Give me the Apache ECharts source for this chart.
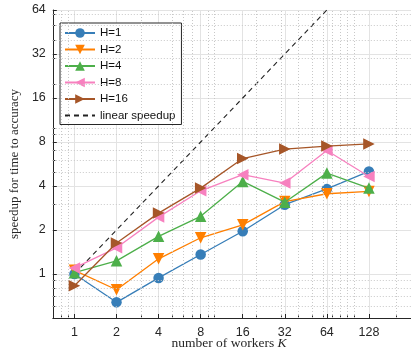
<!DOCTYPE html>
<html><head><meta charset="utf-8">
<script src="https://cdn.jsdelivr.net/npm/echarts@6/dist/echarts.min.js"></script>
<style>html,body{margin:0;padding:0;background:#fff}#c{width:411px;height:356px}</style>
</head><body><div id="c"></div>
<script>
// ---- data ----
const workers = [1, 2, 4, 8, 16, 32, 64, 128];
const seriesNames = ['H=1', 'H=2', 'H=4', 'H=8', 'H=16'];
const h1  = [1.00, 0.64, 0.94, 1.36, 1.96, 2.98, 3.82, 5.03];
const h2  = [1.06, 0.78, 1.27, 1.77, 2.17, 3.13, 3.54, 3.67];
const h4  = [1.02, 1.23, 1.81, 2.48, 4.30, 3.10, 4.90, 3.87];
const h8  = [1.10, 1.51, 2.45, 3.71, 4.78, 4.19, 7.00, 4.65];
const h16 = [0.83, 1.63, 2.61, 3.87, 6.16, 7.16, 7.50, 7.76];
const linearSpeedup = [1, 2, 4, 8, 16, 32, 64, 128];
const xTickLabels = [1, 2, 4, 8, 16, 32, 64, 128];
const yTickLabels = [1, 2, 4, 8, 16, 32, 64];
const xMinor = [0.8, 0.9, 3, 5, 6, 7, 9, 10, 20, 30, 40, 50, 60, 70, 80, 90, 100, 200];
const yMinor = [0.6, 0.7, 0.8, 0.9, 3, 5, 6, 7, 9, 10, 20, 30, 40, 50, 60];

const colors = ['#377eb8', '#ff7f00', '#4daf4a', '#f781bf', '#a65628'];
const symbols = ['circle', 'triangle', 'triangle', 'triangle', 'triangle'];
const rotations = [0, 180, 0, 90, -90];
const sizes = [10.5, 11.5, 11.5, 11.5, 11.5];
const allValues = [h1, h2, h4, h8, h16];

const chart = echarts.init(document.getElementById('c'), null, {renderer: 'canvas'});
const sans = 'Liberation Sans, Arial, sans-serif';
const serif = 'Liberation Serif, Times New Roman, serif';

const series = allValues.map((vals, i) => ({
  name: seriesNames[i],
  type: 'line',
  data: workers.map((k, j) => [k, vals[j]]),
  symbol: symbols[i],
  symbolRotate: rotations[i],
  symbolSize: sizes[i],
  showAllSymbol: true,
  color: colors[i],
  lineStyle: {width: 1.3, color: colors[i]},
  itemStyle: {color: colors[i]},
  z: 3 + i,
  animation: false
}));
series.push({
  name: 'linear speedup',
  type: 'line',
  data: workers.map((k, j) => [k, linearSpeedup[j]]),
  symbol: 'circle',
  showSymbol: false,
  itemStyle: {color: 'rgba(0,0,0,0)', borderWidth: 0},
  lineStyle: {type: [5, 4], width: 1.1, color: '#222'},
  z: 2,
  animation: false
});
// minor dotted grid lines
series.push({
  type: 'line', data: [], silent: true, animation: false,
  markLine: {
    silent: true, symbol: 'none', animation: false,
    label: {show: false},
    lineStyle: {type: [1, 2], color: '#c8c8c8', width: 1},
    data: xMinor.map(v => ({xAxis: v})).concat(yMinor.map(v => ({yAxis: v})))
  }
});

const axisCommon = {
  type: 'log', logBase: 2,
  axisLine: {show: true, lineStyle: {color: '#262626', width: 1}},
  splitLine: {show: true, lineStyle: {color: '#e3e3e3', width: 1}},
  axisLabel: {color: '#262626', fontFamily: sans, fontSize: 12.5},
  axisTick: {show: true, inside: true, length: 4, lineStyle: {color: '#262626'}},
  minorTick: {show: false}, minorSplitLine: {show: false}
};

chart.setOption({
  animation: false,
  backgroundColor: '#fff',
  grid: {left: 47, right: 0, top: 10, bottom: 38, containLabel: false},
  xAxis: [
    Object.assign({}, axisCommon, {
      min: 0.7, max: 256,
      axisLabel: Object.assign({}, axisCommon.axisLabel, {customValues: xTickLabels, margin: 8}),
      axisTick: Object.assign({}, axisCommon.axisTick, {customValues: xTickLabels})
    }),
    Object.assign({}, axisCommon, {
      min: 0.7, max: 256, gridIndex: 0, position: 'bottom',
      axisLine: {show: false}, splitLine: {show: false}, axisLabel: {show: false},
      axisTick: {show: true, inside: true, length: 2.5, customValues: xMinor, lineStyle: {color: '#262626'}}
    })
  ],
  yAxis: [
    Object.assign({}, axisCommon, {
      min: 0.5, max: 64,
      axisLabel: Object.assign({}, axisCommon.axisLabel, {customValues: yTickLabels, margin: 7}),
      axisTick: Object.assign({}, axisCommon.axisTick, {customValues: yTickLabels}),
      name: 'speedup for time to accuracy', nameLocation: 'middle', nameGap: 30, nameRotate: 90,
      nameTextStyle: {fontFamily: serif, fontSize: 13, color: '#262626'}
    }),
    Object.assign({}, axisCommon, {
      min: 0.5, max: 64, gridIndex: 0, position: 'left',
      axisLine: {show: false}, splitLine: {show: false}, axisLabel: {show: false},
      axisTick: {show: true, inside: true, length: 2.5, customValues: yMinor, lineStyle: {color: '#262626'}}
    })
  ],
  legend: {
    orient: 'vertical', left: 60, top: 23,
    data: seriesNames.concat(['linear speedup']),
    itemWidth: 30, itemHeight: 12, itemGap: 4.5,
    padding: [4, 6, 3, 4],
    borderColor: '#262626', borderWidth: 1, backgroundColor: '#fff',
    textStyle: {fontFamily: sans, fontSize: 11.5, color: '#111'},
    symbolRotate: 'inherit'
  },
  graphic: [{
    type: 'text', x: 229, y: 336,
    style: {
      text: '{a|number of workers }{b|K}',
      align: 'center', verticalAlign: 'top',
      rich: {
        a: {fontFamily: serif, fontSize: 13.5, fill: '#262626'},
        b: {fontFamily: serif, fontSize: 13.5, fontStyle: 'italic', fill: '#262626'}
      }
    }
  }],
  series: series
});
</script></body></html>
